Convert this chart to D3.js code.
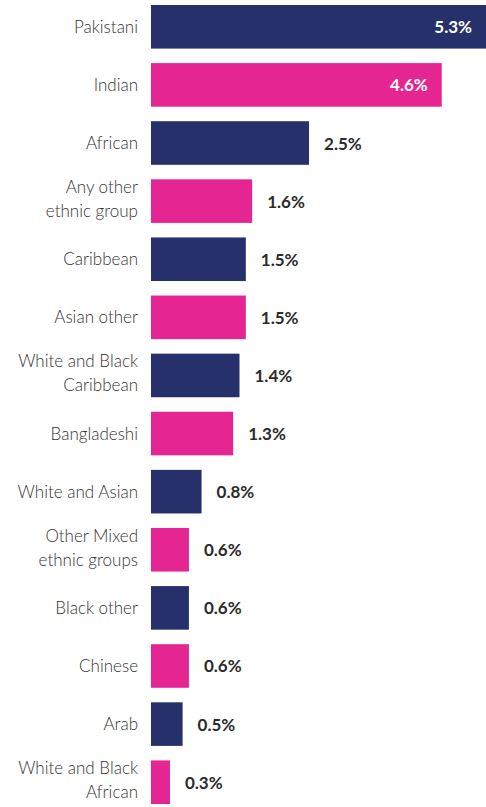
<!DOCTYPE html>
<html>
<head>
<meta charset="utf-8">
<script src="https://cdn.jsdelivr.net/npm/d3@7"></script>
<style>
  body { margin: 0; background: #fff; }
  svg { display: block; font-family: Lato, "Open Sans", sans-serif; }
</style>
</head>
<body>
<script>
// data
const categories = [
  ["Pakistani"],
  ["Indian"],
  ["African"],
  ["Any other", "ethnic group"],
  ["Caribbean"],
  ["Asian other"],
  ["White and Black", "Caribbean"],
  ["Bangladeshi"],
  ["White and Asian"],
  ["Other Mixed", "ethnic groups"],
  ["Black other"],
  ["Chinese"],
  ["Arab"],
  ["White and Black", "African"]
];
const values = [5.3, 4.6, 2.5, 1.6, 1.5, 1.5, 1.4, 1.3, 0.8, 0.6, 0.6, 0.6, 0.5, 0.3];
const colours = ["#26306b", "#e52592"];

const width = 486, height = 807;

const svg = d3
  .select("body")
  .append("svg")
  .attr("width", width)
  .attr("height", height);

const names = categories.map(d => d.join(" "));

const x = d3.scaleLinear().domain([0, 5.3]).range([151, 486]);
const y = d3.scaleBand().domain(names).range([5, 804]).paddingInner(0.25).paddingOuter(0);

const rows = svg.selectAll("g.row")
  .data(values)
  .join("g")
  .attr("class", "row");

// bars
rows.append("rect")
  .attr("x", x(0))
  .attr("y", (d, i) => y(names[i]))
  .attr("width", d => x(d) - x(0))
  .attr("height", y.bandwidth())
  .attr("fill", (d, i) => colours[i % 2]);

// category labels, some on two lines
rows.append("text")
  .attr("text-anchor", "end")
  .attr("fill", "#333")
  .attr("font-size", 17)
  .attr("font-weight", 300)
  .each(function (d, i) {
    const lines = categories[i];
    const mid = y(names[i]) + y.bandwidth() / 2;
    const lh = 24;
    const first = lines.length > 1 ? mid - lh / 2 + 4 : mid + 6;
    d3.select(this).selectAll("tspan")
      .data(lines)
      .join("tspan")
      .attr("x", 138)
      .attr("y", (l, j) => first + j * lh)
      .text(l => l);
  });

// value labels: inside for the two long bars
rows.append("text")
  .attr("font-size", 17)
  .attr("font-weight", "bold")
  .attr("x", d => d > 4 ? x(d) - 14 : x(d) + 15)
  .attr("y", (d, i) => y(names[i]) + y.bandwidth() / 2 + 6.5)
  .attr("text-anchor", d => d > 4 ? "end" : "start")
  .attr("fill", d => d > 4 ? "#fff" : "#2b2b2b")
  .text(d => d.toFixed(1) + "%");
</script>
</body>
</html>
